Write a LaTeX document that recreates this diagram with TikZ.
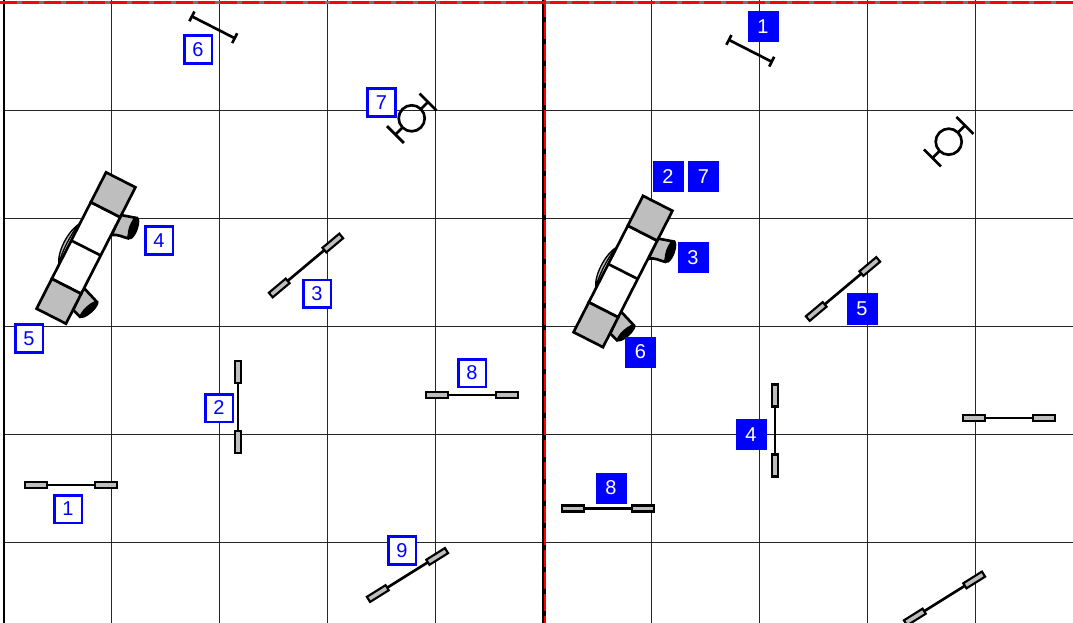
\documentclass[tikz,border=0pt]{standalone}
\usepackage{fontspec}
\setmainfont{Liberation Sans}
\definecolor{numblue}{RGB}{0,0,255}
\definecolor{polegray}{RGB}{190,190,190}
\tikzset{
  numopen/.style={draw=numblue, line width=2pt, fill=white, text=numblue, minimum size=20.75pt, inner sep=0pt, font=\fontsize{15}{18}\selectfont},
  numfull/.style={fill=numblue, text=white, minimum size=23.25pt, inner sep=0pt, font=\fontsize{15}{18}\selectfont},
  obstacle/.style={draw=black, line width=2pt},
  pics/jumpbar/.style={code={
    \draw[obstacle] (-24,0) -- (24,0);
    \draw[obstacle, line width=1.6pt, fill=polegray] (-46,-3) rectangle (-24,3);
    \draw[obstacle, line width=1.6pt, fill=polegray] (24,-3) rectangle (46,3);
  }},
  pics/stakebar/.style={code={
    \draw[obstacle] (-24,0) -- (24,0);
    \draw[obstacle] (-24,-5.5) -- (-24,5.5);
    \draw[obstacle] (24,-5.5) -- (24,5.5);
  }},
  pics/tyre/.style={code={
    \draw[obstacle] (0,0) circle (13);
    \draw[obstacle] (13,0) -- (23,0);
    \draw[obstacle] (-13,0) -- (-23,0);
    \draw[obstacle] (23,-12) -- (23,12);
    \draw[obstacle] (-23,-12) -- (-23,12);
  }},
  pics/seesaw/.style={code={
    % wheels and their black caps
    \draw[obstacle, fill=polegray] (34.7,-33) -- (49,-30.3) -- (42,-9.7) .. controls (36,-11) and (32,-14) .. (25.7,-13) -- cycle;
    \fill[black, rotate around={70.5:(47.5,-20)}] (47.5,-20) ellipse [x radius=12, y radius=4.5];
    \draw[obstacle, fill=polegray] (-2.7,39.3) -- (10.7,53.7) -- (-6,68.7) -- (-12.7,62) -- cycle;
    \fill[black, rotate around={42:(3.2,61.5)}] (3.2,61.5) ellipse [x radius=12, y radius=4];
    \begin{scope}[rotate=63]
      \draw[black, line width=1pt, fill=polegray] (19,-16.5) .. controls (8,-24) and (-18,-24) .. (-27,-16.5) .. controls (-18,-20) and (8,-20) .. cycle;
      \draw[obstacle, fill=white] (-43,-16.5) rectangle (43,16.5);
      \draw[obstacle, fill=polegray] (43,-16.5) rectangle (76.5,16.5);
      \draw[obstacle, fill=polegray] (-43,-16.5) rectangle (-76.5,16.5);
      \draw[obstacle] (0,-16.5) -- (0,16.5);
    \end{scope}
  }}
}

\begin{document}
\begin{tikzpicture}[x=0.75pt, y=-0.75pt]
\clip (0,0) rectangle (1073,623);
\fill[white] (0,0) rectangle (1073,623);
% grid
\foreach \gx in {111.5,219.5,327.5,435.5,651.5,759.5,867.5,975.5}
  \draw[black!85, line width=0.9pt] (\gx,0) -- (\gx,623);
\foreach \gy in {110.5,218.5,326.5,434.5,542.5}
  \draw[black!85, line width=0.9pt] (4,\gy) -- (1073,\gy);
\draw[black, line width=2.2pt] (4,0) -- (4,623);
\draw[black, line width=2.6pt] (544,0) -- (544,623);
\draw[black!55, line width=2pt] (0,2.5) -- (1073,2.5);
\draw[red, line width=2.4pt, dash pattern=on 12.75pt off 3.75pt] (0,2.5) -- (1073,2.5);
\draw[red, line width=1.8pt, dash pattern=on 12.75pt off 3.75pt] (545.2,0) -- (545.2,623);

% left course
\pic (jumpA) at (71,485) {jumpbar};
\pic[rotate=90] (jumpB) at (238,407) {jumpbar};
\pic[rotate=40] (jumpC) at (306,265.5) {jumpbar};
\pic (jumpD) at (472,395) {jumpbar};
\pic[rotate=32] (jumpE) at (407.5,575) {jumpbar};
\pic[rotate=-27] (stakeA) at (213.3,27.3) {stakebar};
\pic[rotate=45] (tyreA) at (411.7,118.3) {tyre};
\pic (seesawA) at (86,248) {seesaw};

% right course
\pic (jumpF) at (608,508.5) {jumpbar};
\pic[rotate=90] (jumpG) at (775,430.5) {jumpbar};
\pic[rotate=40] (jumpH) at (843,289) {jumpbar};
\pic (jumpI) at (1009,418) {jumpbar};
\pic[rotate=32] (jumpJ) at (944.5,598.5) {jumpbar};
\pic[rotate=-27] (stakeB) at (750.3,50.8) {stakebar};
\pic[rotate=45] (tyreB) at (948.7,141.7) {tyre};
\pic (seesawB) at (623,271.5) {seesaw};

% numbers
\node[numopen] (openA) at (68,509) {1};
\node[numopen] (openB) at (219,408) {2};
\node[numopen] (openC) at (317,294) {3};
\node[numopen] (openD) at (159,240.5) {4};
\node[numopen] (openE) at (29,338.5) {5};
\node[numopen] (openF) at (198,49.5) {6};
\node[numopen] (openG) at (381.5,102.5) {7};
\node[numopen] (openH) at (472,373) {8};
\node[numopen] (openI) at (402,550.5) {9};
\node[numfull] (fullA) at (763,27) {1};
\node[numfull] (fullB) at (668,177) {2};
\node[numfull] (fullG) at (703.5,177) {7};
\node[numfull] (fullC) at (693,257.5) {3};
\node[numfull] (fullD) at (751,434.5) {4};
\node[numfull] (fullE) at (862,309) {5};
\node[numfull] (fullF) at (640.5,352) {6};
\node[numfull] (fullH) at (611,488) {8};
\end{tikzpicture}
\end{document}
